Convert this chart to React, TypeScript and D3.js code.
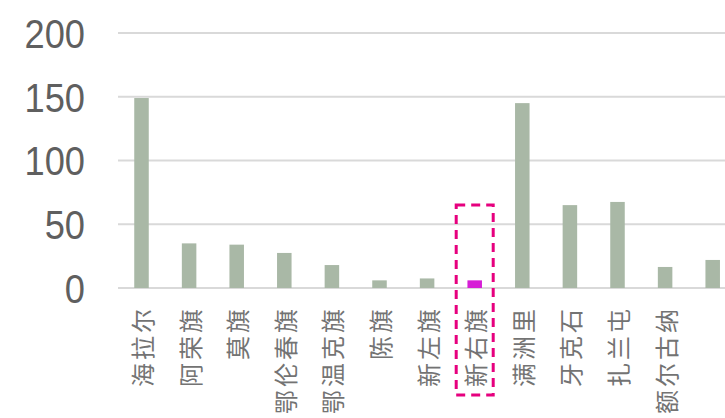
import React from "react";
import * as d3 from "d3";

const categories = ["海拉尔", "阿荣旗", "莫旗", "鄂伦春旗", "鄂温克旗", "陈旗", "新左旗", "新右旗", "满洲里", "牙克石", "扎兰屯", "额尔古纳", ""];
const values = [149, 35, 34, 27.5, 18, 6, 7.5, 6, 145, 65, 67.5, 16.5, 22];
const highlight = "新右旗";
const yTicks = [0, 50, 100, 150, 200];

const W = 725;
const H = 418;

export default function App() {
  const x = d3.scaleBand<string>().domain(categories).range([117.7, 117.7 + 47.6 * categories.length]).paddingInner(0.695).paddingOuter(0.3475);
  const y = d3.scaleLinear().domain([0, 200]).range([288, 33]);
  const bw = x.bandwidth();
  const hx = (x(highlight) ?? 0) + bw / 2;
  return (
    <div style={{ position: "fixed", left: 0, top: 0, width: W, height: H, background: "#fff", overflow: "hidden" }}>
      <svg width={W} height={H} style={{ display: "block" }}>
        {yTicks.map((t) => (
          <g key={t}>
            <line x1={118} x2={W} y1={y(t)} y2={y(t)} stroke="#d9d9d9" strokeWidth={2.2} />
            <text x={85} y={y(t)} dy="0.36em" textAnchor="end" fontFamily="'Liberation Sans', Arial, sans-serif" fontSize={39} fill="#5f5f5f" transform={`translate(85,${y(t)}) scale(0.93,1.06) translate(-85,${-y(t)})`}>
              {t}
            </text>
          </g>
        ))}
        {categories.map((c, i) => (
          <rect key={"b" + i} x={x(c)} y={y(values[i])} width={bw} height={y(0) - y(values[i])} fill={c === highlight ? "#d61fd6" : "#a9b8a6"} />
        ))}
        {categories.map((c, i) => {
          const cx = (x(c) ?? 0) + bw / 2;
          return c ? (
            <text key={"t" + i} transform={`translate(${cx},306) rotate(-90)`} textAnchor="end" dominantBaseline="central" fontFamily="'Noto Sans CJK SC', sans-serif" fontSize={24} letterSpacing={3} fill="#737373">
              {c}
            </text>
          ) : null;
        })}
        <rect x={hx - 18.5} y={205} width={37} height={190} fill="none" stroke="#e6007e" strokeWidth={3} strokeDasharray="9,6" />
      </svg>
    </div>
  );
}
